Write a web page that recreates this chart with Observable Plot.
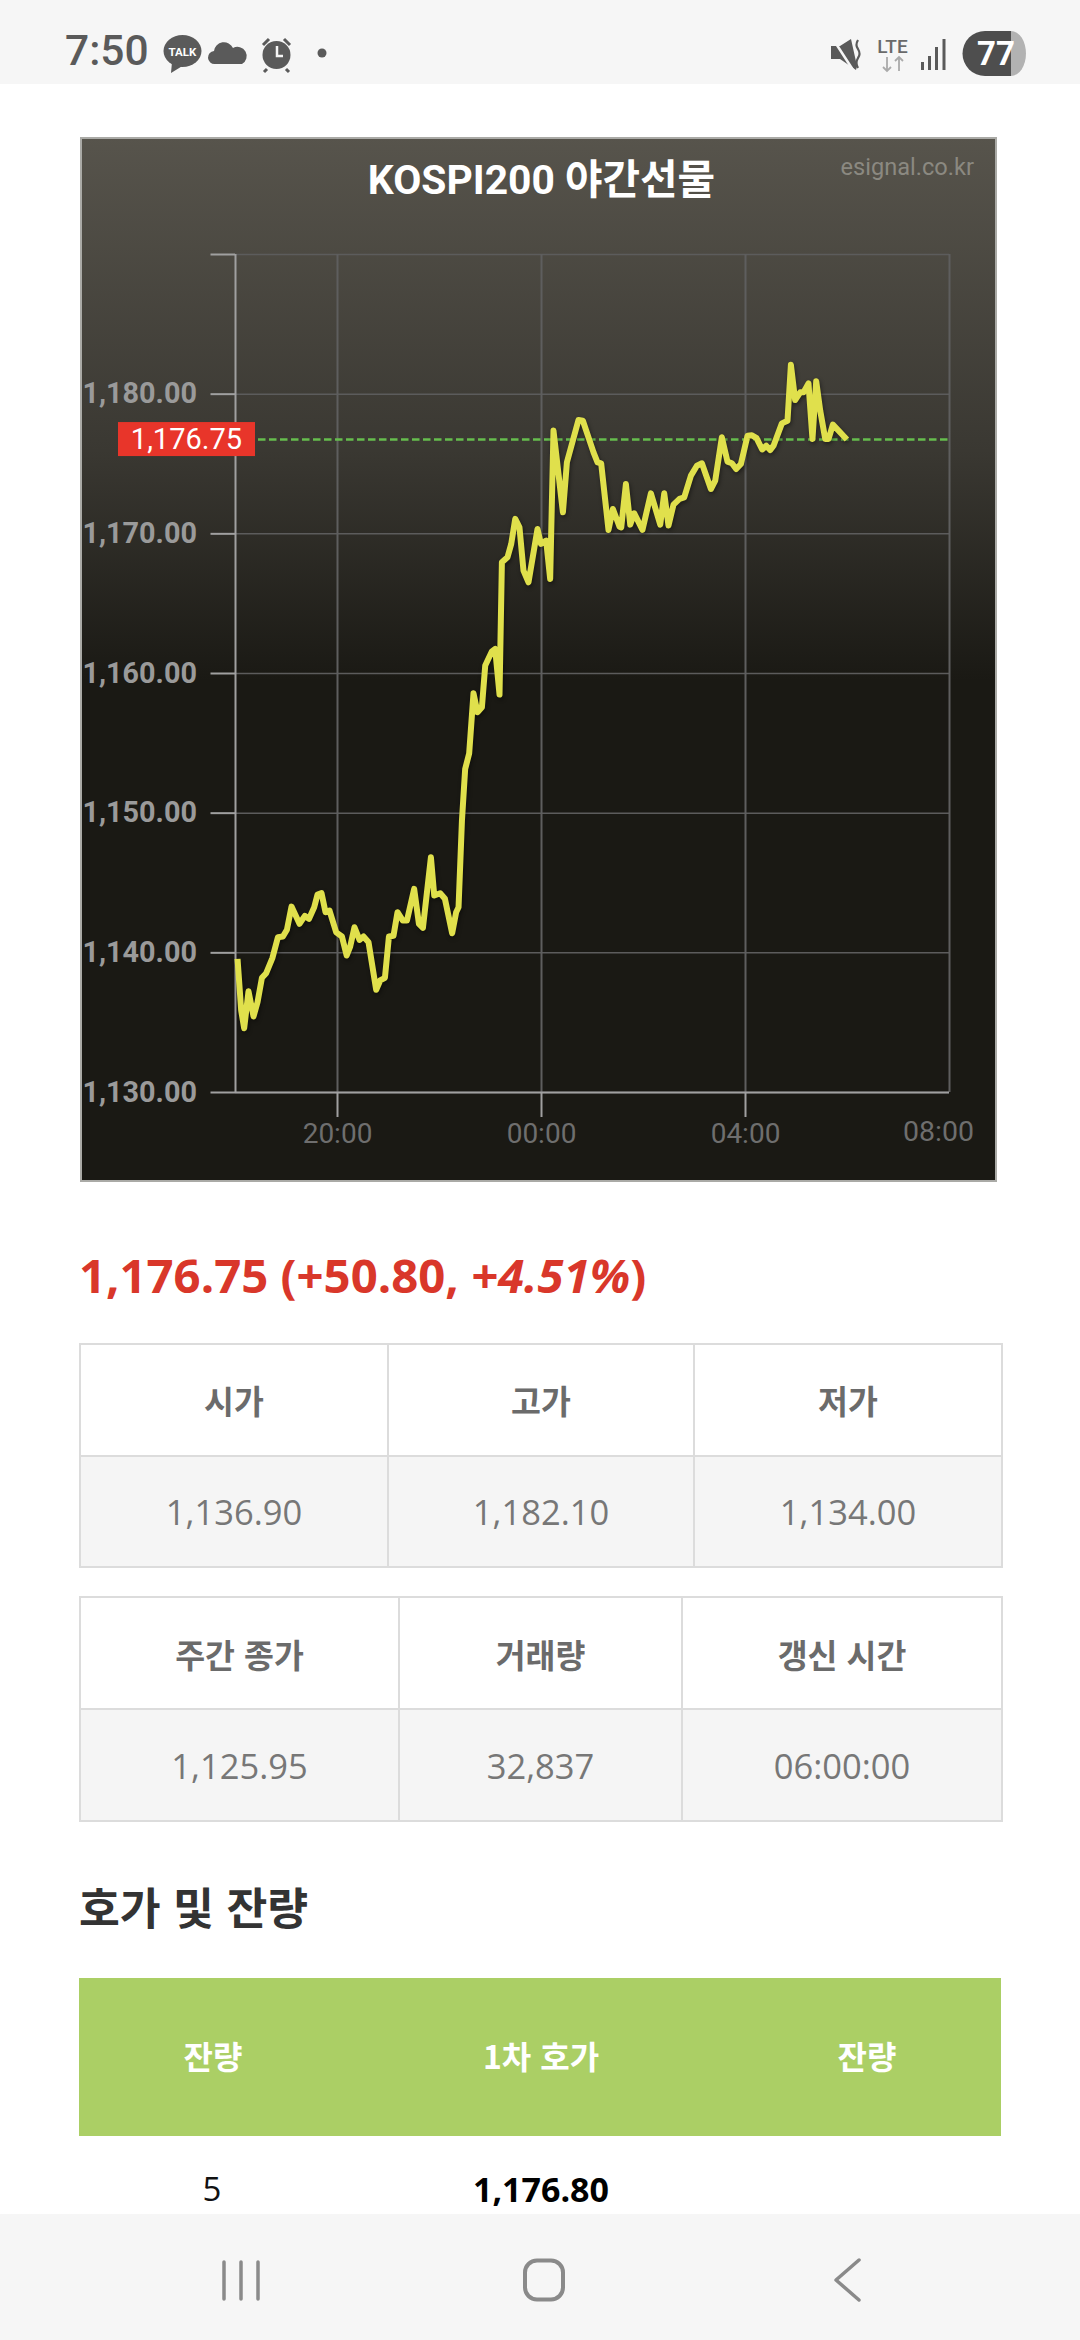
<!DOCTYPE html>
<html lang="ko">
<head>
<meta charset="utf-8">
<script src="https://cdn.jsdelivr.net/npm/d3@7"></script>
<script src="https://cdn.jsdelivr.net/npm/@observablehq/plot@0.6"></script>
<style>
html,body{margin:0;padding:0;background:#fff;}
body{position:relative;width:1080px;height:2340px;overflow:hidden;font-family:"Open Sans","Noto Sans CJK KR",sans-serif;}
.abs{position:absolute;}
table.info{position:absolute;left:79px;width:922px;height:225px;border-collapse:collapse;table-layout:fixed;}
table.info td{border:2px solid #dcdcdc;text-align:center;padding:0;height:50%;}
table.info td.h{font-family:"Noto Sans CJK KR",sans-serif;font-weight:700;font-size:32.5px;color:#6b6b6b;background:#fff;}
table.info td.v{font-size:34.5px;color:#777;background:#f5f5f5;}
</style>
</head>
<body>
<script>
// Minutes after 18:00 and the futures price
const minutes = [2.4,6.7,10.2,15.3,21.2,25.9,31.1,36.1,43.5,49.9,55.8,60.5,65.9,75.3,81.6,86.4,92.6,96.5,101.2,105.9,110.6,118.5,125.2,130.8,134.9,140,145.9,150.6,156.5,165.5,170.2,175.8,180.5,185.9,190.6,196.9,201.7,210.2,215.8,220.5,229.9,233.8,240.8,246.4,254.9,259.6,262.4,266.4,270.2,274.9,280,284.7,289.9,293.8,301.7,305.5,310.6,313.4,320,324.4,329.1,334.1,338.8,344.7,355.3,359.3,365.5,370.2,374.1,385.2,389.9,403.5,408.7,421.2,425.9,430.2,438.8,444,451.8,453.8,459.3,464.4,469.1,478.8,488.7,499.7,504.4,509.4,515.3,522.4,527.9,535.8,542.8,548.7,559.3,564.4,572.2,578.8,584,589,594.6,602.4,607.5,613,619.6,624.4,629,633,642.8,649.4,653.4,658.4,664.4,668.2,674.1,678.8,683.2,687.9,693.8,697.7,702.8,719.3];
const prices = [1139.57,1135.87,1134.6,1137.25,1135.44,1136.46,1138.21,1138.54,1139.64,1141.12,1141.17,1141.65,1143.31,1142.08,1142.65,1142.43,1143.26,1144.17,1144.27,1142.91,1143.03,1141.47,1141.17,1139.81,1140.45,1141.83,1140.93,1141.17,1140.76,1137.35,1138.02,1138.21,1141.17,1141.22,1142.91,1142.31,1142.31,1144.58,1142.08,1141.79,1146.84,1144.10,1144.27,1143.87,1141.40,1142.91,1143.26,1149.47,1153.17,1154.27,1158.58,1157.22,1157.58,1160.57,1161.59,1161.76,1158.49,1167.96,1168.32,1169.28,1171.07,1170.46,1167.37,1166.53,1170.35,1169.28,1169.51,1166.77,1177.39,1171.54,1175.12,1178.15,1178.10,1175.83,1175.12,1175.05,1170.28,1171.78,1170.51,1170.46,1173.57,1170.66,1171.47,1170.28,1172.90,1170.66,1172.90,1170.59,1172.09,1172.50,1172.61,1174.17,1174.88,1175.05,1173.21,1173.81,1176.91,1175.17,1175.05,1174.64,1175.00,1177.03,1177.06,1176.85,1176.04,1176.31,1176.00,1176.31,1177.91,1178.10,1182.10,1179.58,1180.13,1180.13,1180.77,1176.79,1180.92,1178.82,1176.79,1176.79,1177.82,1176.75];
const lastPrice = 1176.75;
const yTicks = [1130,1140,1150,1160,1170,1180,1190];
const xTicks = [120,360,600,840];
const xTickLabels = ["20:00","00:00","04:00","08:00"];

const chartTitle = "KOSPI200 야간선물";
const sourceLabel = "esignal.co.kr";
const table1Head = ["시가","고가","저가"];
const table1Vals = ["1,136.90","1,182.10","1,134.00"];
const table1Cols = [308,306,308];
const table2Head = ["주간 종가","거래량","갱신 시간"];
const table2Vals = ["1,125.95","32,837","06:00:00"];
const table2Cols = [319,283,320];
const orderHead = ["잔량","1차 호가","잔량"];

const series = minutes.map((m,i)=>({m,p:prices[i]}));
const fmt2 = d3.format(",.2f");
const labelOf = m => xTickLabels[xTicks.indexOf(m)];

const chart = Plot.plot({
  width: 917, height: 1045,
  marginLeft: 155, marginRight: 48, marginTop: 117, marginBottom: 90,
  style: {
    background: "linear-gradient(#57544c 0%, #3a3832 30%, #1a1914 52%, #1a1914 100%)",
    fontFamily: "Roboto,'Noto Sans CJK KR',sans-serif",
    position: "absolute", left: "80px", top: "137px", maxWidth: "none",
    outline: "2px solid #aaaaa6", outlineOffset: "-2px"
  },
  x: {type:"linear", domain:[0,840]},
  y: {type:"linear", domain:[1130,1190]},
  marks: [
    Plot.gridY({ticks:yTicks, stroke:"#5c5c5c", strokeOpacity:1, strokeWidth:1.5}),
    Plot.gridX({ticks:xTicks, stroke:"#5e5e5e", strokeOpacity:1, strokeWidth:2}),
    Plot.ruleX([0],{stroke:"#a0a0a0", strokeWidth:2}),
    Plot.axisY({ticks:yTicks, tickSize:24.5, tickPadding:14, tickFormat:d=>d===1190?"":fmt2(d),
      fontSize:28.8, fontWeight:700, fill:"#9a9a9a", stroke:"#a0a0a0", strokeWidth:2, label:null}),
    Plot.axisX({ticks:xTicks.slice(0,3), tickSize:25, tickPadding:6, tickFormat:labelOf,
      fontSize:28, fill:"#6e6e6e", stroke:"#a0a0a0", strokeWidth:2, label:null}),
    Plot.ruleY([1130],{stroke:"#a0a0a0", strokeWidth:2}),
    Plot.text([xTicks[3]],{x:d=>d, y:()=>1130, text:labelOf, dx:-11, dy:39, fontSize:28.5, fill:"#6e6e6e"}),
    Plot.ruleY([lastPrice],{x1:0,x2:840,insetLeft:23,stroke:"#66bd4e",strokeWidth:2.5,strokeDasharray:"7.5 3.5"}),
    Plot.rect([lastPrice],{x1:()=>0,x2:()=>0,y1:d=>d,y2:d=>d,insetLeft:-117,insetRight:-20,insetTop:-17,insetBottom:-17,fill:"#e8352a"}),
    Plot.text([lastPrice],{x:()=>0,y:d=>d,text:d=>fmt2(d),textAnchor:"end",dx:6.5,fontSize:29,fill:"#ffffff"}),
    Plot.line(series,{x:"m",y:"p",stroke:"#e0e04c",strokeWidth:6,strokeLinejoin:"round",strokeLinecap:"butt",curve:"linear"})
  ]
});
chart.querySelectorAll('[aria-label="line"]').forEach(g=>g.style.filter="drop-shadow(1px 2px 2px rgba(0,0,0,.45))");
document.body.appendChild(chart);

function addDiv(css, html){
  const el=document.createElement("div");
  el.className="abs"; el.style.cssText+=css; el.innerHTML=html;
  document.body.appendChild(el); return el;
}
addDiv("left:83px;width:917px;top:156px;line-height:48px;text-align:center;color:#fff;font-family:Roboto,'Noto Sans CJK KR',sans-serif;font-weight:700;font-size:40.8px;white-space:nowrap;", chartTitle);
addDiv("right:106px;top:152px;line-height:30px;color:#8b8981;font-family:Roboto,sans-serif;font-size:23.6px;", sourceLabel);

addDiv("left:79px;top:1245px;line-height:60px;color:#d9372a;font-family:'Open Sans',sans-serif;font-weight:700;font-size:47.3px;white-space:nowrap;",
  `${fmt2(lastPrice)} (+50.80, <i>+4.51%</i>)`);

function infoTable(top, head, vals, cols, h){
  const t=document.createElement("table");
  t.className="info"; t.style.top=top+"px"; t.style.height=h+"px";
  t.innerHTML=`<colgroup>${cols.map(c=>`<col style="width:${c}px">`).join("")}</colgroup>`+
    `<tr>${head.map(h=>`<td class="h">${h}</td>`).join("")}</tr>`+
    `<tr>${vals.map(v=>`<td class="v">${v}</td>`).join("")}</tr>`;
  document.body.appendChild(t);
}
infoTable(1343, table1Head, table1Vals, table1Cols, 225);
infoTable(1596, table2Head, table2Vals, table2Cols, 226);

addDiv("left:79px;top:1871px;line-height:70px;color:#333;font-family:'Noto Sans CJK KR',sans-serif;font-weight:700;font-size:44.4px;","호가 및 잔량");
addDiv("left:79px;top:1978px;width:922px;height:158px;background:#abcf65;","");
[[213,orderHead[0]],[541,orderHead[1]],[867,orderHead[2]]].forEach(([cx,s])=>
  addDiv(`left:${cx-150}px;width:300px;top:2031px;line-height:48px;text-align:center;color:#fff;font-family:'Noto Sans CJK KR',sans-serif;font-weight:700;font-size:32px;`,s));
addDiv("left:112px;width:200px;top:2165px;line-height:48px;text-align:center;color:#111;font-size:33px;","5");
addDiv("left:391px;width:300px;top:2165px;line-height:48px;text-align:center;color:#000;font-weight:700;font-size:34px;","1,176.80");

// Phone chrome
addDiv("left:0;top:0;width:1080px;height:84px;background:#f6f6f6;",`
<svg width="1080" height="84" style="position:absolute;left:0;top:0">
  <text x="65" y="65" font-family="Roboto" font-weight="500" font-size="42.500" fill="#5a5a5a">7:50</text>
  <ellipse cx="182.5" cy="51" rx="19" ry="16" fill="#5a5a5a"/><path d="M172 62 L171 73 L184 65Z" fill="#5a5a5a"/>
  <text x="182.5" y="55.5" text-anchor="middle" font-family="Roboto" font-weight="700" font-size="11.5" fill="#fff">TALK</text>
  <path d="M215 64 a6.5 6.5 0 0 1 -1 -13 a10 10 0 0 1 19 -3 a8 8 0 0 1 9 16Z" fill="#5a5a5a"/>
  <circle cx="276.5" cy="55" r="14" fill="#5a5a5a"/>
  <path d="M263 45 l6 -6 M290 45 l-6 -6 M267 69 l-3 3 M286 69 l3 3" stroke="#5a5a5a" stroke-width="3"/>
  <path d="M277 46 v10 h6" stroke="#f6f6f6" stroke-width="2.5" fill="none"/>
  <circle cx="322" cy="53" r="4.5" fill="#5a5a5a"/>
  <path d="M831 46 h9 l11 -7 l6 27 l-1 4 l-16 -11 h-9Z" fill="#5a5a5a"/>
  <path d="M833 39 l20 31" stroke="#f6f6f6" stroke-width="2.5"/>
  <path d="M858 40 q-3 5 0 9 q3 5 0 9 q-3 5 0 10" stroke="#5a5a5a" stroke-width="2.2" fill="none"/>
  <text x="892.5" y="52.5" text-anchor="middle" font-family="Roboto" font-weight="500" font-size="19" fill="#6a6a6a">LTE</text>
  <path d="M887 57 v14 m-4 -4 l4 4 l4 -4" stroke="#aaa" stroke-width="1.8" fill="none"/>
  <path d="M899 71 v-14 m-4 4 l4 -4 l4 4" stroke="#aaa" stroke-width="1.8" fill="none"/>
  <rect x="921" y="62" width="3" height="8" fill="#5a5a5a"/><rect x="928" y="56" width="3" height="14" fill="#5a5a5a"/><rect x="935" y="47" width="3" height="23" fill="#5a5a5a"/><rect x="942.5" y="39" width="3" height="31" fill="#5a5a5a"/>
  <path d="M1011 31 h-26 a22.500 22.500 0 0 0 0 45 h26Z" fill="#4e4e4e"/>
  <path d="M1011 31 h0 a15 22.500 0 0 1 0 45 Z" fill="#b2b2b2"/>
  <text x="996" y="65" text-anchor="middle" font-family="Roboto" font-weight="700" font-size="33" fill="#fff">77</text>
</svg>`);
addDiv("left:0;top:2214px;width:1080px;height:126px;background:#f6f6f6;",`
<svg width="1080" height="126" style="position:absolute;left:0;top:0">
  <path d="M224 48 v37 M241 48 v37 M258 48 v37" stroke="#8a8a8a" stroke-width="3.5" stroke-linecap="round"/>
  <rect x="525" y="46.500" width="38" height="39" rx="12" fill="none" stroke="#8a8a8a" stroke-width="4"/>
  <path d="M859 46 L836 66 L859 86" fill="none" stroke="#8a8a8a" stroke-width="3.5" stroke-linecap="round" stroke-linejoin="round"/>
</svg>`);
</script>
</body>
</html>
